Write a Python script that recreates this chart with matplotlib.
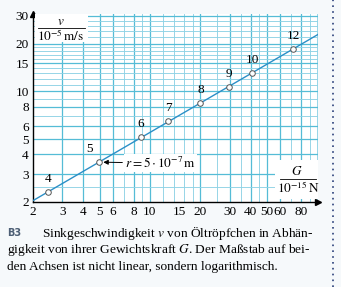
import matplotlib.pyplot as plt
import matplotlib.lines as mlines
import numpy as np

# droplet radius in 10^-7 m, weight G in 10^-15 N, sink speed v in 10^-5 m/s
radius = [4, 5, 6, 7, 8, 9, 10, 12]
G = [2.46, 4.97, 8.8, 12.9, 20.0, 29.6, 41.0, 72.0]
v = [2.31, 3.57, 5.13, 6.46, 8.4, 10.7, 13.1, 18.6]

x_ticks = [2, 3, 4, 5, 6, 8, 10, 15, 20, 30, 40, 50, 60, 80]
y_ticks = [2, 3, 4, 5, 6, 8, 10, 15, 20, 30]
x_grid = list(range(3, 10)) + list(range(10, 20, 2)) + list(range(20, 50, 5)) + list(range(50, 101, 10))
y_grid = [2.5] + list(range(3, 20)) + list(range(20, 31, 2))

plt.rcParams['font.family'] = ['Liberation Serif', 'DejaVu Serif']
plt.rcParams['mathtext.fontset'] = 'stix'

fig = plt.figure(figsize=(3.41, 2.87), dpi=100, facecolor='#f6f9fb')
ax = fig.add_axes([33/341, 85/287, 285/341, 188/287])
ax.set_facecolor('white')
ax.set_xscale('log')
ax.set_yscale('log')
ax.set_xlim(2, 101)
ax.set_ylim(2, 30.8)

# grid
for gx in x_grid:
    major = gx in x_ticks
    ax.axvline(gx, color='#55bcd6' if major else '#8fd2e5', lw=0.9 if major else 0.65, zorder=0)
for gy in y_grid:
    major = gy in y_ticks
    ax.axhline(gy, color='#55bcd6' if major else '#8fd2e5', lw=0.9 if major else 0.65, zorder=0)

for s in ['top', 'right']:
    ax.spines[s].set_visible(False)
for s in ['left', 'bottom']:
    ax.spines[s].set_linewidth(1.0)
ax.plot(1, 0, '>', color='black', ms=5, transform=ax.transAxes, clip_on=False)
ax.plot(0, 1, '^', color='black', ms=5, transform=ax.transAxes, clip_on=False)

ax.set_xticks(x_ticks)
ax.set_xticklabels([str(t) for t in x_ticks])
ax.set_yticks(y_ticks)
ax.set_yticklabels([str(t) for t in y_ticks])
ax.minorticks_off()
ax.tick_params(length=0, labelsize=9.5, pad=3)

# fitted line through the points
p = np.polyfit(np.log10(G), np.log10(v), 1)
gl = np.array([2, 101])
ax.plot(gl, 10 ** np.polyval(p, np.log10(gl)), color='#2b8fc7', lw=1.0, zorder=3)
ax.plot(G, v, 'o', ms=4, mfc='white', mec='#555555', mew=0.7, zorder=4)

for r, g, vv in zip(radius, G, v):
    dx = -7 if r == 5 else 0
    ax.annotate(str(r), (g, vv), xytext=(dx, 5), textcoords='offset points',
                ha='center', va='bottom', fontsize=9.5)

ax.annotate(r'$r = 5\cdot 10^{-7}\,\mathrm{m}$', xy=(G[1], v[1]), xytext=(0.323, 0.207),
            textcoords='axes fraction', ha='left', va='center', fontsize=9.5,
            bbox=dict(boxstyle='square,pad=0.1', fc='white', ec='none'),
            arrowprops=dict(arrowstyle='-|>', color='black', lw=0.7,
                            mutation_scale=7, shrinkA=1, shrinkB=3))

# axis labels as fractions
ax.add_patch(plt.Rectangle((0.007, 0.851), 0.186, 0.149, transform=ax.transAxes,
                           fc='white', ec='none', zorder=5))
ax.text(0.098, 0.955, r'$v$', transform=ax.transAxes, ha='center', va='center', fontsize=9.5, zorder=6)
ax.add_line(mlines.Line2D([0.018, 0.182], [0.925, 0.925], transform=ax.transAxes, color='black', lw=0.6, zorder=6))
ax.text(0.098, 0.882, r'$10^{-5}\,\mathrm{m/s}$', transform=ax.transAxes, ha='center', va='center', fontsize=9.5, zorder=6)

ax.add_patch(plt.Rectangle((0.849, 0.016), 0.151, 0.207, transform=ax.transAxes,
                           fc='white', ec='none', zorder=5))
ax.text(0.926, 0.16, r'$G$', transform=ax.transAxes, ha='center', va='center', fontsize=9.5, zorder=6)
ax.add_line(mlines.Line2D([0.867, 0.993], [0.122, 0.122], transform=ax.transAxes, color='black', lw=0.6, zorder=6))
ax.text(0.93, 0.074, r'$10^{-15}\,\mathrm{N}$', transform=ax.transAxes, ha='center', va='center', fontsize=9.5, zorder=6)

# caption
fig.text(7/341, 1 - 233/287, 'B3', fontsize=7, fontweight='bold', family=['DejaVu Sans'],
         color='#4d5f75', va='center')
fig.text(42/341, 1 - 233/287, 'Sinkgeschwindigkeit $v$ von Öltröpfchen in Abhän-', fontsize=9.6, va='center')
fig.text(7/341, 1 - 250/287, 'gigkeit von ihrer Gewichtskraft $G$. Der Maßstab auf bei-', fontsize=9.6, va='center')
fig.text(7/341, 1 - 267/287, 'den Achsen ist nicht linear, sondern logarithmisch.', fontsize=9.6, va='center')

fig.add_artist(mlines.Line2D([333/341, 333/341], [0, 1], transform=fig.transFigure,
                             color='#2a3f7a', lw=1.2, ls=(0, (1, 2.5))))

fig.savefig('out.png', dpi=100, facecolor=fig.get_facecolor())
